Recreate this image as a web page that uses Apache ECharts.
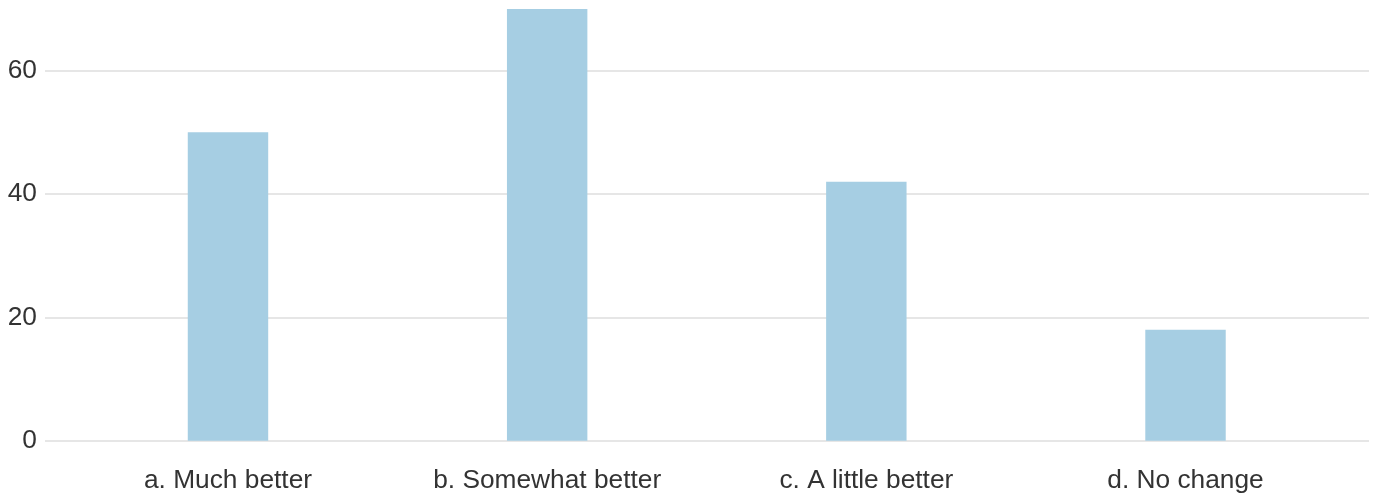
<!DOCTYPE html>
<html>
<head>
<meta charset="utf-8">
<script src="https://cdn.jsdelivr.net/npm/echarts@6/dist/echarts.min.js"></script>
<style>
html,body{margin:0;padding:0;background:#fff;}
#chart{width:1375px;height:495px;}
</style>
</head>
<body>
<div id="chart"></div>
<script>
const categories = ["a. Much better", "b. Somewhat better", "c. A little better", "d. No change"];
const values = [50, 70, 42, 18];
const yTicks = [0, 20, 40, 60];
const yMax = 70;

const chart = echarts.init(document.getElementById('chart'), null, {renderer: 'canvas'});
const font = "'Liberation Sans', Arial, sans-serif";
const yMin = yTicks[0], yStep = yTicks[1] - yTicks[0];
const lineColors = yTicks.map(() => '#e6e6e6').concat(['rgba(0,0,0,0)']);

chart.setOption({
  animation: false,
  backgroundColor: '#ffffff',
  grid: [
    {left: 45, right: 6, top: 9, bottom: 54.3, containLabel: false},
    {left: 68.4, right: 29.9, top: 9, bottom: 54.3, containLabel: false}
  ],
  xAxis: [
    {type: 'category', gridIndex: 0, data: categories, show: false},
    {
      type: 'category', gridIndex: 1, data: categories,
      axisLine: {show: false}, axisTick: {show: false},
      axisLabel: {color: '#333333', fontSize: 26.3, fontFamily: font, margin: 27, interval: 0}
    }
  ],
  yAxis: [
    {
      type: 'value', gridIndex: 0, min: yMin, max: yMax, interval: yStep,
      axisLine: {show: false}, axisTick: {show: false},
      axisLabel: {color: '#333333', fontSize: 26.3, fontFamily: font, margin: 8, showMaxLabel: false},
      splitLine: {show: true, lineStyle: {color: lineColors, width: 2}}
    },
    {
      type: 'value', gridIndex: 1, min: yMin, max: yMax, interval: yStep, show: false,
      splitLine: {show: false}
    }
  ],
  series: [{
    type: 'bar', xAxisIndex: 1, yAxisIndex: 1,
    data: values, barWidth: '25.2%',
    itemStyle: {color: '#a6cee3'}
  }]
});
</script>
</body>
</html>
